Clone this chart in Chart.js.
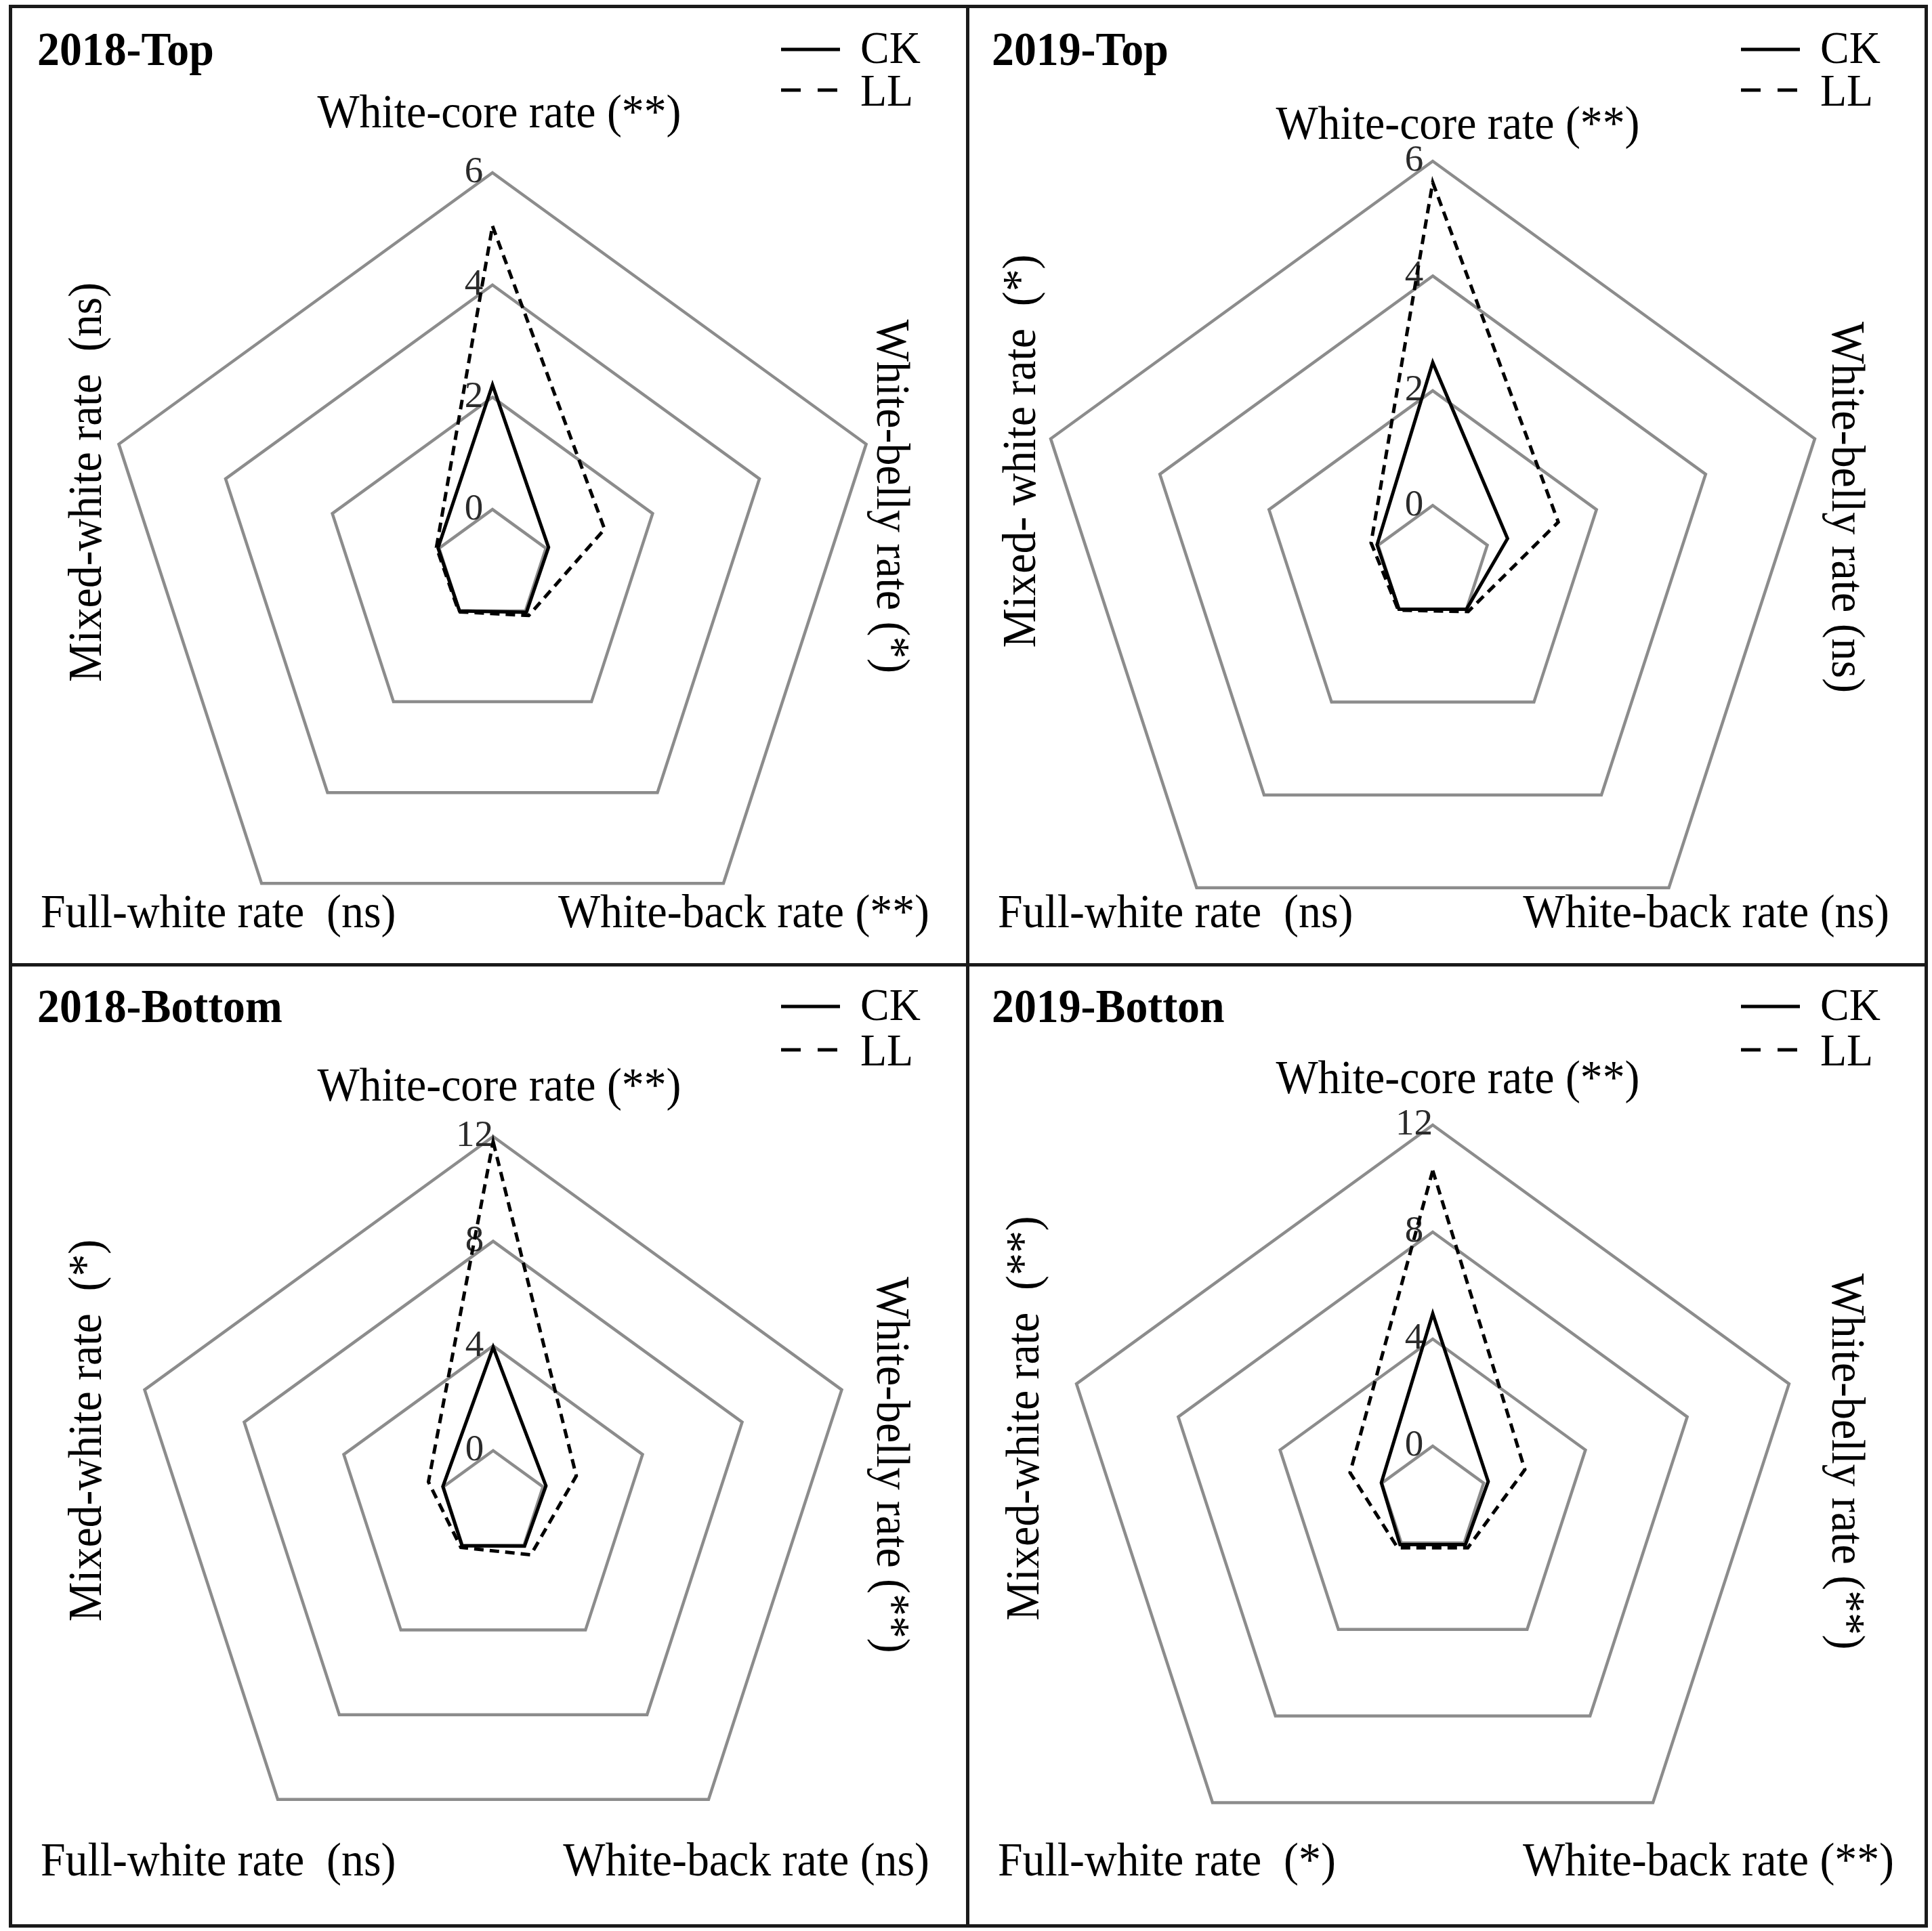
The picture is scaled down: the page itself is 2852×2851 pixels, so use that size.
<!DOCTYPE html>
<html>
<head>
<meta charset="utf-8">
<script src="https://cdn.jsdelivr.net/npm/chart.js@4.4.1/dist/chart.umd.min.js"></script>
<style>
  html, body { margin: 0; padding: 0; background: #fff; }
  #fig { position: relative; width: 2852px; height: 2851px; overflow: hidden; }
  #fig canvas { position: absolute; }
  .rule { position: absolute; background: #1a1a1a; }
</style>
</head>
<body>
<div id="fig"></div>
<script>
// axes go clockwise from the top
const AXES = ['White-core rate', 'White-belly rate', 'White-back rate', 'Full-white rate', 'Mixed-white rate'];
const SERIES = ['CK', 'LL'];
const TICKS_TOP = [0, 2, 4, 6];
const TICKS_BOTTOM = [0, 4, 8, 12];

const CK_2018_TOP = [2.22, 0.05, 0.03, 0.0, 0.02];
const LL_2018_TOP = [5.05, 1.10, 0.10, 0.02, 0.05];
const CK_2019_TOP = [2.49, 0.37, 0.0, 0.0, 0.02];
const LL_2019_TOP = [5.63, 1.30, 0.05, 0.02, 0.13];
const CK_2018_BOTTOM = [3.95, 0.12, 0.04, 0.02, 0.02];
const LL_2018_BOTTOM = [11.8, 1.34, 0.45, 0.10, 0.60];
const CK_2019_BOTTOM = [4.95, 0.18, 0.08, 0.08, 0.02];
const LL_2019_BOTTOM = [10.3, 1.62, 0.23, 0.23, 1.25];

// significance marks, same order as AXES
const SIG_2018_TOP = ['(**)', '(*)', '(**)', ' (ns)', ' (ns)'];
const SIG_2019_TOP = ['(**)', '(ns)', '(ns)', ' (ns)', ' (*)'];
const SIG_2018_BOTTOM = ['(**)', '(**)', '(ns)', ' (ns)', ' (*)'];
const SIG_2019_BOTTOM = ['(**)', '(**)', '(**)', ' (*)', ' (**)'];

// frame lines of the 2x2 grid
const XL = [15, 1428, 2843];
const YL = [9, 1424, 2843];
const SPILL = 80; // canvases reach a bit below their panel so the layout padding never goes negative

// R is the size handed to the layout; the scale ends up ~28px smaller (tick backdrop)
const panels = [
  { title: '2018-Top', ck: CK_2018_TOP, ll: LL_2018_TOP, sig: SIG_2018_TOP, ticks: TICKS_TOP, min: -1, max: 6,
    col: 0, row: 0, cx: 712, cy: 826, R: 610, coreY: 178, coreX: 722, mixX: 116, mixY: 703, bellyX: 1298, bellyY: 724,
    backR: 1357, mixedName: 'Mixed-white rate' },
  { title: '2019-Top', ck: CK_2019_TOP, ll: LL_2019_TOP, sig: SIG_2019_TOP, ticks: TICKS_TOP, min: -1, max: 6,
    col: 1, row: 0, cx: 687, cy: 822, R: 623, coreY: 195, coreX: 724, mixX: 82, mixY: 657, bellyX: 1295, bellyY: 740,
    backR: 1361, mixedName: 'Mixed- white rate' },
  { title: '2018-Bottom', ck: CK_2018_BOTTOM, ll: LL_2018_BOTTOM, sig: SIG_2018_BOTTOM, ticks: TICKS_BOTTOM, min: -2, max: 12,
    col: 0, row: 1, cx: 713, cy: 795, R: 571, coreY: 200, coreX: 722, mixX: 116, mixY: 688, bellyX: 1298, bellyY: 739,
    backR: 1357, mixedName: 'Mixed-white rate' },
  { title: '2019-Botton', ck: CK_2019_BOTTOM, ll: LL_2019_BOTTOM, sig: SIG_2019_BOTTOM, ticks: TICKS_BOTTOM, min: -2, max: 12,
    col: 1, row: 1, cx: 687, cy: 790, R: 583, coreY: 189, coreX: 724, mixX: 87, mixY: 670, bellyX: 1295, bellyY: 734,
    backR: 1368, mixedName: 'Mixed-white rate' }
];

const SERIF = '"Liberation Serif", "Times New Roman", serif';
const SQUEEZE = 0.94;   // the source lettering is a little condensed

function squeezedText(ctx, text, x, y, align, angle) {
  ctx.save();
  ctx.translate(x, y);
  if (angle) ctx.rotate(angle);
  ctx.scale(SQUEEZE, 1);
  ctx.textAlign = align;
  ctx.fillText(text, 0, 0);
  ctx.restore();
}

// titles, legends and the axis names around each radar
const panelText = {
  id: 'panelText',
  afterDraw(chart, args, o) {
    const p = o.panel;
    const top = p.row === 0;
    const ctx = chart.ctx;
    ctx.save();
    ctx.fillStyle = '#000';
    ctx.textBaseline = 'alphabetic';

    ctx.font = 'bold 70px ' + SERIF;
    squeezedText(ctx, p.title, p.col === 0 ? 40 : 36, top ? 87 : 85, 'left');

    // legend
    const lx = p.col === 0 ? 1138 : 1142;
    const y1 = top ? 64 : 62, y2 = top ? 124 : 126;
    ctx.strokeStyle = '#000';
    ctx.lineWidth = 5;
    ctx.beginPath(); ctx.moveTo(lx, y1); ctx.lineTo(lx + 87, y1); ctx.stroke();
    ctx.setLineDash([29, 25]);
    ctx.beginPath(); ctx.moveTo(lx, y2); ctx.lineTo(lx + 87, y2); ctx.stroke();
    ctx.setLineDash([]);
    ctx.font = '68px ' + SERIF;
    squeezedText(ctx, SERIES[0], lx + 117, y1 + 20, 'left');
    squeezedText(ctx, SERIES[1], lx + 117, y2 + 23, 'left');

    ctx.font = '70px ' + SERIF;
    squeezedText(ctx, AXES[0] + ' ' + p.sig[0], p.coreX, p.coreY + 1, 'center');
    const bottomY = top ? 1360 : 1345;
    squeezedText(ctx, AXES[3] + ' ' + p.sig[3], 45, bottomY, 'left');
    squeezedText(ctx, AXES[2] + ' ' + p.sig[2], p.backR, bottomY, 'right');

    ctx.textBaseline = 'middle';
    squeezedText(ctx, p.mixedName + ' ' + p.sig[4], p.mixX, p.mixY, 'center', -Math.PI / 2);
    squeezedText(ctx, AXES[1] + ' ' + p.sig[1], p.bellyX, p.bellyY, 'center', Math.PI / 2);

    ctx.restore();
  }
};

const fig = document.getElementById('fig');

panels.forEach(p => {
  const x0 = XL[p.col], y0 = YL[p.row];
  const w = XL[p.col + 1] - x0, h = YL[p.row + 1] - y0 + SPILL;
  const canvas = document.createElement('canvas');
  canvas.width = w;
  canvas.height = h;
  canvas.style.left = x0 + 'px';
  canvas.style.top = y0 + 'px';
  canvas.style.width = w + 'px';
  canvas.style.height = h + 'px';
  fig.appendChild(canvas);

  const tickValues = p.ticks;
  new Chart(canvas, {
    type: 'radar',
    data: {
      labels: AXES,
      datasets: [
        { label: SERIES[0], data: p.ck, borderColor: '#000', borderWidth: 5, fill: false },
        { label: SERIES[1], data: p.ll, borderColor: '#000', borderWidth: 5, borderDash: [14, 9], fill: false }
      ]
    },
    options: {
      responsive: false,
      animation: false,
      devicePixelRatio: 1,
      layout: { padding: { left: p.cx - p.R, right: w - p.cx - p.R, top: p.cy - p.R, bottom: h - p.cy - p.R } },
      elements: { line: { tension: 0, borderJoinStyle: 'miter' }, point: { radius: 0, hoverRadius: 0 } },
      plugins: { legend: { display: false }, tooltip: { enabled: false }, panelText: { panel: p } },
      scales: {
        r: {
          min: p.min,
          max: p.max,
          afterBuildTicks: scale => { scale.ticks = tickValues.map(v => ({ value: v })); },
          angleLines: { display: false },
          grid: { color: '#8c8c8c', lineWidth: 4.5 },
          pointLabels: { display: false },
          ticks: {
            showLabelBackdrop: false,
            color: '#2a2a2a',
            font: { family: SERIF, size: 55 },
            callback: v => v + '\u2002\u2002'
          }
        }
      }
    },
    plugins: [panelText]
  });
});

// frame
function rule(x, y, w, h) {
  const d = document.createElement('div');
  d.className = 'rule';
  d.style.left = x + 'px'; d.style.top = y + 'px';
  d.style.width = w + 'px'; d.style.height = h + 'px';
  fig.appendChild(d);
}
const LW = 5;
XL.forEach(x => rule(x - LW / 2, YL[0] - LW / 2, LW, YL[2] - YL[0] + LW));
YL.forEach(y => rule(XL[0] - LW / 2, y - LW / 2, XL[2] - XL[0] + LW, LW));
</script>
</body>
</html>
